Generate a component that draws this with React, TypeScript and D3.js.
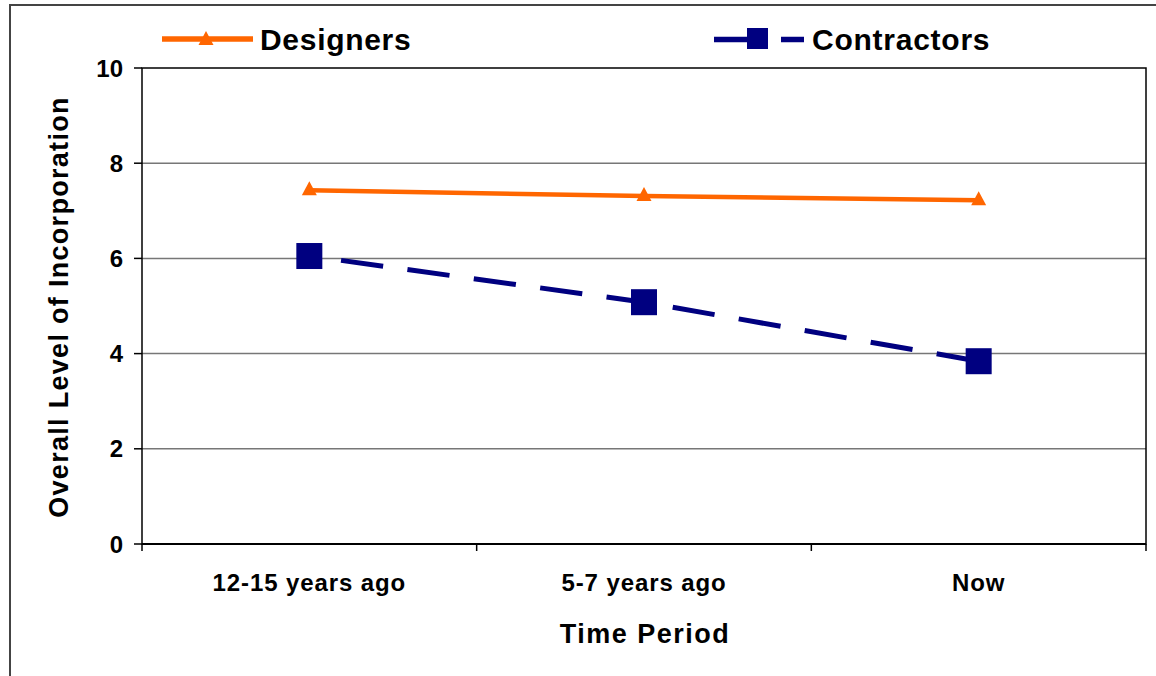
import React from "react";
import * as d3 from "d3";

const categories = ["12-15 years ago", "5-7 years ago", "Now"];
const designers = [7.43, 7.31, 7.22];
const contractors = [6.05, 5.08, 3.84];
const yTicks = [0, 2, 4, 6, 8, 10];

const W = 1156, H = 676;
const left = 142, right = 1146, top = 68, bottom = 544;

const triPath = (cx: number, cy: number) =>
  `M${cx},${cy - 8}L${cx + 7.5},${cy + 6}L${cx - 7.5},${cy + 6}Z`;

export default function App() {
  const x = d3.scaleBand<string>().domain(categories).range([left, right]);
  const y = d3.scaleLinear().domain([0, 10]).range([bottom, top]);
  const cx = (c: string) => (x(c) as number) + x.bandwidth() / 2;
  const line = d3.line<number>().x((_, i) => cx(categories[i])).y((d) => y(d));
  const font = "'Liberation Sans', Arial, sans-serif";
  const bounds = [...categories.map((c) => x(c) as number), right];
  return (
    <svg width={W} height={H} style={{ position: "absolute", left: 0, top: 0 }} fontFamily={font}>
      <rect x={0} y={0} width={W} height={H} fill="#fff" />
      <line x1={10} y1={5} x2={10} y2={H} stroke="#444" strokeWidth={2} />
      <line x1={9} y1={5} x2={W} y2={5} stroke="#444" strokeWidth={2} />
      {yTicks.map((t) => (
        <g key={t}>
          {t > 0 && t < 10 && (
            <line x1={left} x2={right} y1={y(t)} y2={y(t)} stroke="#777" strokeWidth={1.5} />
          )}
          <line x1={left - 8} x2={left} y1={y(t)} y2={y(t)} stroke="#000" strokeWidth={1.5} />
          <text x={123} y={y(t)} dy="0.36em" textAnchor="end" fontSize={24} fontWeight="bold">{t}</text>
        </g>
      ))}
      <rect x={left} y={top} width={right - left} height={bottom - top} fill="none" stroke="#000" strokeWidth={1.5} />
      <line x1={left} x2={right} y1={bottom} y2={bottom} stroke="#000" strokeWidth={2} />
      {bounds.map((b, i) => (
        <line key={i} x1={b} x2={b} y1={bottom} y2={bottom + 7} stroke="#000" strokeWidth={1.5} />
      ))}
      {categories.map((c) => (
        <text key={c} x={cx(c)} y={591} textAnchor="middle" fontSize={24} fontWeight="bold" letterSpacing={0.9}>{c}</text>
      ))}
      <text x={645} y={643} textAnchor="middle" fontSize={27} fontWeight="bold" letterSpacing={1.5}>Time Period</text>
      <text transform={`translate(68,307) rotate(-90)`} textAnchor="middle" fontSize={27} fontWeight="bold" letterSpacing={1.3}>Overall Level of Incorporation</text>

      <path d={line(designers) as string} fill="none" stroke="#FF6600" strokeWidth={4.5} />
      {designers.map((d, i) => (
        <path key={i} d={triPath(cx(categories[i]), y(d) - 1)} fill="#FF6600" />
      ))}
      <path d={line(contractors) as string} fill="none" stroke="#000080" strokeWidth={5} strokeDasharray="42.5 24.5" strokeDashoffset={35} />
      {contractors.map((d, i) => (
        <rect key={i} x={cx(categories[i]) - 13} y={y(d) - 13} width={26} height={26} fill="#000080" />
      ))}

      <line x1={162} x2={253} y1={39} y2={39} stroke="#FF6600" strokeWidth={5.5} />
      <path d={triPath(206, 39)} fill="#FF6600" />
      <text x={260} y={50} fontSize={30} fontWeight="bold" letterSpacing={0.7}>Designers</text>

      <line x1={714} x2={748} y1={39.5} y2={39.5} stroke="#000080" strokeWidth={5.5} />
      <rect x={747} y={28} width={21} height={21} fill="#000080" />
      <line x1={781} x2={804} y1={39.5} y2={39.5} stroke="#000080" strokeWidth={5.5} />
      <text x={812} y={50} fontSize={30} fontWeight="bold" letterSpacing={0.75}>Contractors</text>
    </svg>
  );
}
